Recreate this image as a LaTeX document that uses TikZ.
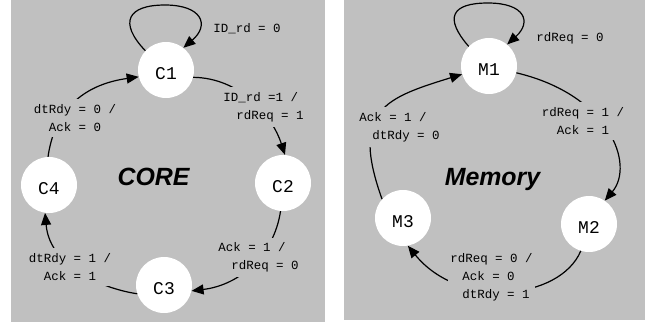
\documentclass[tikz,border=0pt]{standalone}
\usepackage{fontspec}
\setmainfont{Liberation Sans}
\setsansfont{Liberation Sans}
\setmonofont{Liberation Mono}
\usetikzlibrary{arrows.meta}
\definecolor{bggray}{HTML}{C0C0C0}
\begin{document}
\begin{tikzpicture}[x=1bp,y=-1bp,
  state/.style={circle,fill=white,minimum size=56bp,inner sep=0pt,
    font=\ttfamily\fontsize{18}{20}\selectfont,text height=19bp,text depth=0pt},
  cond/.style={fill=bggray,inner xsep=2bp,inner ysep=5bp,font=\ttfamily\fontsize{12.5}{18}\selectfont},
  trans/.style={line width=1.2bp,-{Triangle[length=12bp,width=10bp]}},
  title/.style={font=\sffamily\bfseries\itshape\fontsize{25}{30}\selectfont,anchor=base}
]
\useasboundingbox (0,0) rectangle (656,325);
\fill[bggray] (11,0) rectangle (325,322);
\fill[bggray] (344,0) rectangle (645,320);

\node[state] (C1) at (166,70) {C1};
\node[state] (C2) at (283,183) {C2};
\node[state] (C3) at (164,285) {C3};
\node[state] (C4) at (49,185) {C4};
\node[state] (M1) at (489,66) {M1};
\node[state] (M2) at (589,224) {M2};
\node[state] (M3) at (403,218) {M3};
\coordinate (C1top) at (165,5);
\coordinate (M1top) at (488,3);

\draw[trans] (C1.137) .. controls (118,22) and (128,5) .. (C1top) .. controls (202,5) and (210,25) .. (C1.52);
\draw[trans] (C1.-15) .. controls (240,78) and (272,115) .. (C2.86);
\draw[trans] (C2.265) .. controls (274,255) and (240,285) .. (C3.-12);
\draw[trans] (C3.198) .. controls (110,290) and (50,270) .. (C4.262);
\draw[trans] (C4.92) .. controls (56,100) and (95,83) .. (C1.194);

\draw[trans] (M1.136) .. controls (444,18) and (451,3) .. (M1top) .. controls (525,3) and (532,22) .. (M1.50);
\draw[trans] (M1.-14) .. controls (610,95) and (635,165) .. (M2.56);
\draw[trans] (M2.253) .. controls (560,300) and (460,310) .. (M3.-80);
\draw[trans] (M3.138) .. controls (350,110) and (385,98) .. (M1.197);

\node[cond] (L1) at (247,29) {ID\_rd = 0};
\node[cond,align=left] (L2) at (263.5,107) {ID\_rd =1 /\\\hspace*{13bp}rdReq = 1};
\node[cond,align=left] (L3) at (258.5,257.5) {Ack = 1 /\\\hspace*{13bp}rdReq = 0};
\node[cond,align=center] (L4) at (70,267) {dtRdy = 1 /\\Ack = 1};
\node[cond,align=center] (L5) at (75,118) {dtRdy = 0 /\\Ack = 0};
\node[cond] (L6) at (570,38) {rdReq = 0};
\node[cond,align=center] (L7) at (583,121) {rdReq = 1 /\\Ack = 1};
\node[cond,align=left] (L8) at (491.5,277.5) {rdReq = 0 /\\\hspace*{12bp}Ack = 0\\\hspace*{12bp}dtRdy = 1};
\node[cond,align=left] (L9) at (399.5,127) {Ack = 1 /\\\hspace*{13bp}dtRdy = 0};

\node[title] (core) at (153.5,185) {CORE};
\node[title] (mem) at (492.5,185) {Memory};
\end{tikzpicture}
\end{document}
